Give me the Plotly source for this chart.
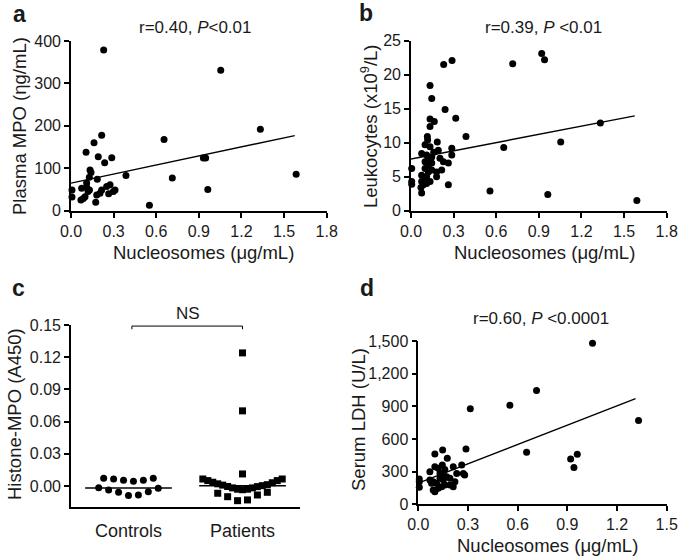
import numpy as np
import plotly.graph_objects as go

W, H = 685, 560
FONT = "Liberation Sans, Arial, sans-serif"

# ---------------- data ----------------
# panel a: nucleosomes vs plasma MPO
a_x = [0.23, 1.054, 1.333, 0.216, 0.655, 0.162, 0.106, 0.192, 0.287, 0.237, 0.932, 0.948,
       0.134, 0.141, 0.129, 0.185, 0.387, 0.713, 1.585, 0.963, 0.552, 0.007, 0.007, 0.075,
       0.087, 0.099, 0.11, 0.13, 0.216, 0.251, 0.275, 0.298, 0.31, 0.181, 0.204, 0.174,
       0.07, 0.11, 0.265, 0.12]
a_y = [379, 331, 192, 178, 168, 160, 138, 127, 125, 113, 124, 124,
       96, 90, 79, 74, 83, 77, 86, 50, 13, 49, 32, 53,
       29, 33, 55, 49, 49, 57, 61, 45, 49, 37, 41, 20,
       25, 65, 40, 45]
a_fit_x = [0.0, 1.575]
a_fit_y = [65, 177]

# panel b: nucleosomes vs leukocytes
b_x = [0.289, 0.23, 0.716, 0.92, 0.94, 0.134, 0.146, 0.24, 0.315, 0.134, 0.164, 0.134,
       1.333, 0.387, 0.115, 0.117, 0.185, 0.653, 1.054, 0.099, 0.134, 0.192, 0.287, 0.287,
       0.075, 0.11, 0.146, 0.204, 0.228, 0.099, 0.122, 0.146, 0.263, 0.005, 0.099, 0.122,
       0.146, 0.18, 0.216, 0.075, 0.087, 0.11, 0.18, 0.005, 0.005, 0.075, 0.087, 0.11,
       0.134, 0.263, 0.075, 0.556, 0.963, 1.59, 0.16, 0.12, 0.07, 0.1]
b_y = [22.1, 21.5, 21.6, 23.1, 22.2, 18.4, 16.5, 14.9, 13.6, 13.5, 13.1, 12.4,
       12.9, 10.9, 10.9, 10.4, 10.1, 9.3, 10.1, 9.7, 9.4, 8.9, 9.2, 8.2,
       8.4, 8.2, 7.9, 7.7, 7.2, 7.2, 6.7, 7.0, 7.0, 6.2, 6.2, 5.7,
       6.0, 5.7, 6.0, 5.2, 4.8, 5.0, 5.0, 4.3, 3.9, 4.3, 3.8, 4.0,
       4.3, 3.8, 2.6, 2.9, 2.4, 1.5, 8.6, 7.5, 3.4, 4.6]
b_fit_x = [0.0, 1.575]
b_fit_y = [7.6, 13.95]

# panel c: histone-MPO, controls vs patients (rows of the dot plot, left to right)
c_categories = ["Controls", "Patients"]
controls_upper = [0.0072, 0.0065, 0.0053, 0.0044, 0.0053, 0.0072]
controls_lower = [-0.0016, -0.0037, -0.0059, -0.0090, -0.0084, -0.0053, -0.0021]
patients_band = [0.0065, 0.0050, 0.0035, 0.0020, 0.0008, -0.0005, -0.0018, -0.0030, -0.0035,
                 -0.0030, -0.0018, -0.0006, 0.0003, 0.0012, 0.0030, 0.0050, 0.0065]
patients_low = [-0.0068, -0.0100, -0.0137, -0.0130, -0.0084, -0.0059]
patients_high = [0.0112, 0.0700, 0.1240]
c_medians = [-0.0019, 0.0003]
ns_level = 0.149

# panel d: nucleosomes vs serum LDH
d_x = [1.052, 0.714, 0.314, 0.553, 1.33, 0.654, 0.92, 0.96, 0.94, 0.288, 0.147, 0.1,
       0.175, 0.006, 0.006, 0.006, 0.07, 0.1, 0.12, 0.145, 0.211, 0.262, 0.272, 0.232,
       0.28, 0.09, 0.11, 0.131, 0.151, 0.171, 0.191, 0.211, 0.221, 0.191, 0.09, 0.1,
       0.12, 0.141, 0.161, 0.07, 0.08, 0.15, 0.131, 0.1, 0.16]
d_y = [1480, 1045, 877, 910, 770, 477, 416, 459, 339, 508, 498, 461,
       422, 232, 156, 207, 299, 345, 330, 360, 345, 360, 284, 284,
       270, 207, 193, 239, 223, 253, 177, 161, 207, 239, 131, 116,
       147, 161, 177, 223, 193, 284, 284, 122, 320]
d_fit_x = [0.0, 1.312]
d_fit_y = [195, 970]

# ---------------- helpers ----------------
def px_x(p):
    return p / W

def px_y(p):
    return 1 - p / H

def spread(values, center, gap):
    n = len(values)
    return list(center + (np.arange(n) - (n - 1) / 2) * gap)

DOT = dict(color="black", size=7, symbol="circle")
SQ = dict(color="black", size=7, symbol="square")

fig = go.Figure()

def add_scatter(xs, ys, ax, marker):
    fig.add_trace(go.Scatter(x=xs, y=ys, mode="markers", marker=marker,
                             xaxis="x" + ax, yaxis="y" + ax, cliponaxis=False,
                             showlegend=False, hoverinfo="skip"))

def add_line(xs, ys, ax, width=1.4):
    fig.add_trace(go.Scatter(x=xs, y=ys, mode="lines", line=dict(color="black", width=width),
                             xaxis="x" + ax, yaxis="y" + ax, cliponaxis=False,
                             showlegend=False, hoverinfo="skip"))

# panel a
add_line(a_fit_x, a_fit_y, "")
add_scatter(a_x, a_y, "", DOT)
# panel b
add_line(b_fit_x, b_fit_y, "2")
add_scatter(b_x, b_y, "2", DOT)
# panel c
step = 0.0435
half = 0.38
add_line([0 - half, 0 + half], [c_medians[0]] * 2, "3", 1.5)
add_line([1 - half, 1 + half], [c_medians[1]] * 2, "3", 1.5)
add_scatter(spread(controls_upper, 0, 2 * step), controls_upper, "3", DOT)
add_scatter(spread(controls_lower, 0, 2 * step), controls_lower, "3", DOT)
add_scatter(spread(patients_band, 1, step), patients_band, "3", SQ)
add_scatter(spread(patients_low, 1, 2 * step), patients_low, "3", SQ)
add_scatter([1] * len(patients_high), patients_high, "3", SQ)
# NS bracket
cap = 0.003
add_line([0.03, 0.03, 1.0, 1.0], [ns_level - cap, ns_level, ns_level, ns_level - cap], "3", 1.0)
# panel d
add_line(d_fit_x, d_fit_y, "4")
add_scatter(d_x, d_y, "4", DOT)

tickfont = dict(family=FONT, size=16, color="#1a1a1a")

def axis(domain, rng, dtick=None, fmt=None, anchor=None, **kw):
    d = dict(domain=domain, range=rng, showline=True, linecolor="black", linewidth=1.6,
             ticks="outside", ticklen=5, tickwidth=1.5, tickcolor="black",
             showgrid=False, zeroline=False, tickfont=tickfont, anchor=anchor,
             automargin=False)
    if dtick is not None:
        d["dtick"] = dtick
        d["tick0"] = 0
    if fmt is not None:
        d["tickformat"] = fmt
    d.update(kw)
    return d

fig.update_layout(
    width=W, height=H, margin=dict(l=0, r=0, t=0, b=0, autoexpand=False),
    paper_bgcolor="white", plot_bgcolor="white",
    font=dict(family=FONT, color="#1a1a1a"),
    xaxis=axis([px_x(71), px_x(326.7)], [0, 1.8], 0.3, ".1f", "y"),
    yaxis=axis([px_y(210.7), px_y(41)], [0, 400], 100, None, "x"),
    xaxis2=axis([px_x(411), px_x(666.7)], [0, 1.8], 0.3, ".1f", "y2"),
    yaxis2=axis([px_y(210.7), px_y(40.7)], [0, 25], 5, None, "x2"),
    xaxis3=axis([px_x(71), px_x(300)], [-0.504, 1.504], anchor="y3",
                tickmode="array", tickvals=[0, 1], ticktext=c_categories,
                tickcolor="rgba(0,0,0,0)", ticklen=7,
                tickfont=dict(family=FONT, size=18, color="#1a1a1a")),
    yaxis3=axis([px_y(507), px_y(325)], [-0.0196, 0.15], 0.03, ".2f", "x3"),
    xaxis4=axis([px_x(418.3), px_x(666.7)], [0, 1.5], 0.3, ".1f", "y4"),
    yaxis4=axis([px_y(504.3), px_y(341)], [0, 1500], 300, ",", "x4"),
)

ann = []
def text(x, y, s, size=18, angle=0):
    ann.append(dict(x=px_x(x), y=px_y(y), xref="paper", yref="paper", text=s,
                    showarrow=False, textangle=angle, xanchor="center", yanchor="middle",
                    font=dict(family=FONT, size=size, color="#1a1a1a")))

# panel letters
text(19, 14, "<b>a</b>", 23)
text(366, 13, "<b>b</b>", 23)
text(18, 288, "<b>c</b>", 23)
text(367, 288, "<b>d</b>", 23)
# stats
text(195, 27, "r=0.40, <i>P</i><0.01", 17)
text(543, 27, "r=0.39, <i>P</i> <0.01", 17)
text(541, 318, "r=0.60, <i>P</i> <0.0001", 17)
text(188, 313, "NS", 17)
# axis titles
text(203, 253, "Nucleosomes (μg/mL)", 18.5)
text(544, 253, "Nucleosomes (μg/mL)", 18.5)
text(547, 545, "Nucleosomes (μg/mL)", 18.5)
text(20, 126, "Plasma MPO (ηg/mL)", 18.5, -90)
text(369, 126, "Leukocytes (x10<sup>9</sup>/L)", 18.5, -90)
text(14, 414, "Histone-MPO (A450)", 18.5, -90)
text(358, 420, "Serum LDH (U/L)", 18.5, -90)
fig.update_layout(annotations=ann)

fig.write_html("out.html", config={"displayModeBar": False},
               post_script="document.body.style.margin='0';document.body.style.padding='0';"
                           "document.body.style.overflow='hidden';")
